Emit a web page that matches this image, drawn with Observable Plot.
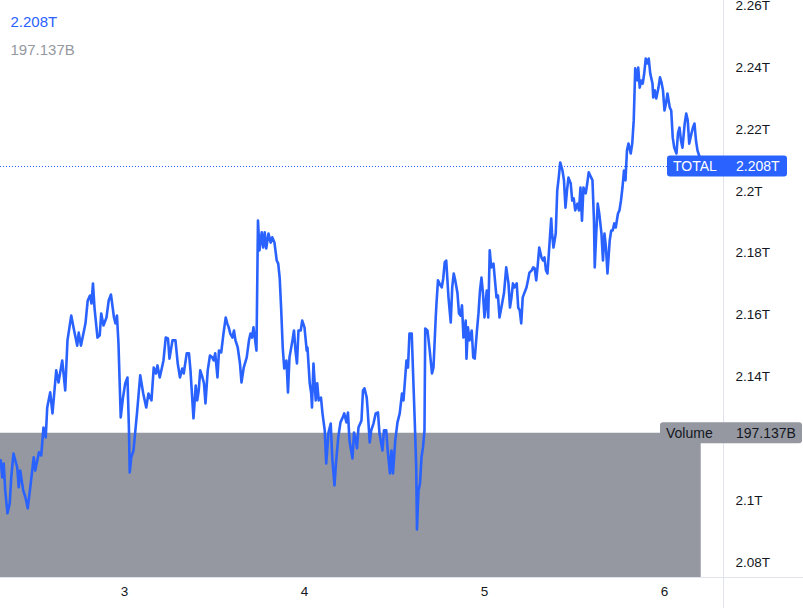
<!DOCTYPE html>
<html>
<head>
<meta charset="utf-8">
<script src="https://cdn.jsdelivr.net/npm/d3@7"></script>
<script src="https://cdn.jsdelivr.net/npm/@observablehq/plot@0.6"></script>
<style>
  html, body { margin: 0; padding: 0; background: #ffffff; }
  #chart { width: 803px; height: 608px; overflow: hidden; }
</style>
</head>
<body>
<div id="chart"></div>
<script>
// ---- data -------------------------------------------------------------
// time = hours since day 2, 00:00 ; value = TOTAL market cap in billions
const totalSeries = [
[7.5,2113.0],[7.7,2107.5],[7.9,2112.0],[8.1,2103.3],[8.4,2095.9],[8.7,2099.1],[8.9,2107.5],[9.2,2115.2],[9.7,2110.7],[9.9,2104.3],
[10.1,2109.7],[10.5,2103.3],[10.8,2101.0],[11.1,2097.5],[11.5,2105.5],[11.9,2114.0],[12.1,2109.7],[12.6,2115.6],[12.9,2114.6],[13.2,2123.6],
[13.5,2120.4],[13.7,2130.1],[14.1,2135.0],[14.4,2128.2],[14.7,2136.6],[14.9,2142.1],[15.2,2138.2],[15.7,2145.3],[16.1,2135.6],[16.4,2151.8],
[16.9,2159.8],[17.2,2156.0],[17.7,2150.1],[17.9,2154.3],[18.2,2150.1],[18.8,2157.3],[19.1,2164.7],[19.4,2166.3],[19.6,2163.7],[19.8,2170.2],
[20.0,2162.4],[20.4,2152.7],[20.7,2153.4],[20.9,2160.5],[21.2,2156.6],[21.6,2159.2],[21.9,2164.7],[22.2,2166.6],[22.6,2159.2],[22.8,2157.3],
[23.0,2159.8],[23.2,2150.8],[23.5,2126.9],[23.8,2133.3],[24.1,2137.9],[24.4,2139.8],[24.6,2122.7],[24.7,2109.1],[24.9,2114.0],[25.2,2116.2],
[25.7,2129.1],[26.1,2140.5],[26.5,2134.6],[26.9,2130.1],[27.2,2134.6],[27.6,2132.4],[27.9,2143.0],[28.2,2141.1],[28.4,2143.7],[28.7,2139.8],
[29.0,2143.0],[29.2,2145.3],[29.5,2152.7],[29.8,2152.4],[30.0,2145.9],[30.4,2151.8],[30.8,2151.8],[31.1,2144.3],[31.4,2139.8],[31.7,2142.7],
[31.9,2141.1],[32.3,2147.6],[32.6,2147.6],[32.8,2142.1],[33.2,2126.6],[33.5,2137.2],[33.7,2132.4],[33.9,2135.6],[34.1,2142.1],[34.4,2139.8],
[34.6,2137.9],[34.8,2131.4],[35.1,2142.1],[35.4,2146.9],[35.7,2146.3],[35.9,2145.3],[36.1,2147.6],[36.4,2139.8],[36.6,2148.5],[36.9,2147.9],
[37.2,2154.0],[37.5,2159.2],[37.7,2157.3],[37.9,2156.0],[38.1,2154.0],[38.4,2152.7],[38.6,2155.0],[38.8,2151.8],[39.1,2149.5],[39.4,2144.3],
[39.6,2138.2],[39.9,2143.0],[40.3,2146.3],[40.6,2151.8],[40.8,2154.0],[41.0,2152.7],[41.2,2156.0],[41.6,2148.5],[41.8,2190.5],[42.0,2180.9],
[42.3,2186.7],[42.5,2181.8],[42.7,2186.7],[42.9,2181.5],[43.2,2186.3],[43.5,2183.4],[43.7,2185.1],[44.0,2183.4],[44.3,2177.6],[44.5,2176.6],
[44.7,2171.8],[44.9,2161.5],[45.1,2149.5],[45.3,2142.7],[45.6,2145.3],[45.8,2135.0],[46.0,2146.3],[46.4,2151.8],[46.6,2155.0],[46.8,2148.5],
[47.0,2144.3],[47.2,2155.0],[47.5,2155.0],[47.7,2158.2],[48.0,2156.0],[48.3,2148.5],[48.4,2149.5],[48.7,2137.9],[48.9,2134.6],[49.0,2130.1],
[49.2,2144.3],[49.5,2132.4],[49.7,2137.9],[49.9,2132.4],[50.2,2133.3],[50.4,2128.2],[50.7,2122.7],[50.9,2112.0],[51.2,2122.0],[51.5,2124.9],
[51.7,2114.0],[52.0,2104.9],[52.2,2112.0],[52.5,2120.4],[52.8,2125.3],[53.1,2126.9],[53.3,2128.2],[53.6,2125.3],[53.8,2128.5],[54.0,2119.4],
[54.4,2113.6],[54.6,2122.0],[54.8,2120.1],[55.0,2116.9],[55.2,2123.6],[55.6,2125.9],[55.8,2135.6],[56.0,2136.3],[56.3,2133.3],[56.4,2130.1],
[56.7,2118.8],[56.9,2122.7],[57.2,2124.9],[57.5,2128.2],[57.8,2128.5],[58.0,2121.7],[58.4,2116.2],[58.6,2122.7],[58.9,2122.7],[59.1,2116.2],
[59.4,2108.8],[59.6,2116.2],[59.8,2108.8],[60.1,2119.4],[60.4,2125.3],[60.7,2128.2],[61.0,2134.6],[61.2,2132.4],[61.6,2145.3],[61.8,2143.0],
[62.0,2154.0],[62.3,2154.0],[62.5,2139.8],[62.7,2125.9],[62.9,2110.7],[63.0,2090.7],[63.2,2103.3],[63.4,2105.5],[63.6,2114.0],[63.8,2117.2],
[64.0,2122.7],[64.1,2155.6],[64.4,2155.0],[64.7,2148.5],[65.0,2141.1],[65.2,2143.0],[65.5,2159.2],[65.6,2163.7],[65.8,2171.2],[66.0,2170.2],
[66.3,2168.9],[66.5,2171.8],[66.7,2177.0],[66.9,2177.6],[67.2,2165.7],[67.5,2157.6],[67.7,2168.9],[67.9,2173.4],[68.1,2171.2],[68.4,2167.0],
[68.6,2160.5],[68.8,2159.8],[69.0,2163.1],[69.2,2152.7],[69.5,2158.2],[69.6,2145.9],[69.8,2156.0],[70.0,2151.8],[70.3,2155.0],[70.5,2146.3],
[70.7,2145.9],[71.0,2155.0],[71.2,2160.5],[71.4,2167.9],[71.6,2172.1],[71.8,2167.0],[72.0,2159.2],[72.3,2167.9],[72.5,2159.2],[72.7,2180.9],
[72.9,2175.4],[73.2,2176.6],[73.4,2171.2],[73.6,2165.7],[73.8,2166.3],[74.0,2159.2],[74.3,2163.1],[74.6,2167.0],[74.9,2175.4],[75.2,2170.2],
[75.4,2162.4],[75.6,2165.7],[75.8,2170.2],[76.0,2168.9],[76.3,2170.2],[76.5,2162.4],[76.7,2161.5],[76.9,2157.3],[77.1,2165.7],[77.3,2167.0],
[77.6,2168.9],[77.8,2171.2],[78.0,2173.7],[78.3,2174.4],[78.5,2175.4],[78.7,2175.0],[78.9,2171.2],[79.1,2176.0],[79.3,2181.8],[79.6,2178.6],
[79.8,2177.6],[80.0,2178.6],[80.2,2174.4],[80.4,2173.4],[80.7,2184.1],[80.9,2191.2],[81.0,2186.7],[81.2,2181.8],[81.5,2186.3],[81.7,2200.2],
[81.9,2204.4],[82.1,2209.3],[82.4,2206.7],[82.6,2203.5],[82.8,2194.7],[83.0,2200.2],[83.2,2204.4],[83.5,2202.5],[83.7,2197.0],[83.9,2197.7],
[84.1,2193.8],[84.4,2196.0],[84.6,2193.8],[84.8,2201.2],[85.0,2190.5],[85.2,2201.2],[85.5,2199.3],[85.7,2202.5],[85.9,2206.1],[86.1,2205.1],
[86.4,2203.5],[86.6,2190.5],[86.7,2175.4],[86.9,2186.3],[87.1,2196.0],[87.3,2192.8],[87.6,2186.3],[87.8,2177.6],[88.0,2186.3],[88.2,2181.8],
[88.4,2173.4],[88.7,2184.1],[88.9,2187.3],[89.1,2187.3],[89.3,2189.6],[89.5,2188.3],[89.8,2192.8],[90.0,2193.8],[90.2,2197.0],[90.4,2201.2],
[90.6,2206.7],[90.8,2203.5],[91.0,2213.2],[91.2,2215.4],[91.5,2212.2],[91.7,2215.4],[91.9,2222.9],[92.1,2239.7],[92.4,2235.8],[92.5,2240.0],
[92.7,2233.5],[92.9,2235.8],[93.1,2234.8],[93.3,2238.1],[93.5,2242.9],[93.7,2241.3],[93.9,2242.9],[94.1,2238.1],[94.4,2234.8],[94.5,2230.3],
[94.7,2232.6],[94.9,2230.0],[95.2,2233.5],[95.4,2236.8],[95.6,2235.2],[95.8,2232.6],[96.0,2226.1],[96.2,2228.4],[96.4,2231.6],[96.7,2227.1],
[96.9,2226.1],[97.1,2217.4],[97.3,2214.1],[97.6,2212.2],[97.8,2218.7],[98.0,2220.6],[98.2,2216.4],[98.4,2214.1],[98.7,2221.9],[98.9,2225.1],
[99.1,2222.9],[99.3,2215.4],[99.6,2218.7],[99.8,2220.6],[100.0,2221.9],[100.2,2216.4],[100.4,2213.2],[100.7,2210.9],[100.9,2208.0]
];

const seriesName = "TOTAL";
const lastValue = 2208.0;          // billions -> "2.208T"
const volumeLabel = "Volume";
const volumeValue = 197.137;       // billions -> "197.137B"
const volumePaneShare = 0.25;      // volume pane takes the bottom quarter

const dayTicks = [3, 4, 5, 6];                                   // day of month
const priceTicks = [2080, 2100, 2140, 2160, 2180, 2200, 2220, 2240, 2260]; // billions
const xDomain = [7.47, 103.87];    // hours since day 2, 00:00
const yDomain = [2075.15, 2261.65];

// ---- helpers ----------------------------------------------------------
const fmtT = v => (+(v / 1000).toFixed(3)) + "T";
const fmtB = v => v.toFixed(3) + "B";
const lastTime = totalSeries[totalSeries.length - 1][0];
const volumeTop = yDomain[0] + (volumeValue / volumeValue) * volumePaneShare * (yDomain[1] - yDomain[0]);
const volumeBars = [{x1: xDomain[0], x2: lastTime, y1: yDomain[0], y2: volumeTop}];

const BLUE = "#2962ff";
const GREY = "#9598a1";
const INK = "#131722";
const FONT = "'Liberation Sans', Arial, sans-serif";

const chart = Plot.plot({
  width: 803,
  height: 608,
  marginLeft: 0,
  marginRight: 80,
  marginTop: 0,
  marginBottom: 31,
  style: {fontFamily: FONT, fontSize: "13px", color: INK, background: "#ffffff", overflow: "visible"},
  x: {domain: xDomain},
  y: {domain: yDomain},
  marks: [
    Plot.rect(volumeBars, {x1: "x1", x2: "x2", y1: "y1", y2: "y2", fill: GREY}),
    Plot.ruleY([lastValue], {stroke: BLUE, strokeWidth: 1, strokeDasharray: "1,2"}),
    Plot.line(totalSeries, {x: d => d[0], y: d => d[1], stroke: BLUE, strokeWidth: 2.6, strokeLinejoin: "round"}),
    Plot.axisY(priceTicks, {anchor: "right", tickSize: 0, tickPadding: 12, textAnchor: "start",
      tickFormat: fmtT, fontSize: 13.5, fill: INK, label: null}),
    Plot.axisX(dayTicks.map(d => (d - 2) * 24), {anchor: "bottom", tickSize: 0, tickPadding: 9,
      tickFormat: h => String(2 + h / 24), fontSize: 13.5, fill: INK, label: null}),
    Plot.text([fmtT(lastValue)], {frameAnchor: "top-left", dx: 10, dy: 22, textAnchor: "start",
      lineAnchor: "middle", fill: BLUE, fontSize: 15}),
    Plot.text([fmtB(volumeValue)], {frameAnchor: "top-left", dx: 10, dy: 50, textAnchor: "start",
      lineAnchor: "middle", fill: GREY, fontSize: 15})
  ]
});

document.getElementById("chart").appendChild(chart);

// ---- price-scale decorations (borders and last-value labels) ----------
const sx = chart.scale("x"), sy = chart.scale("y");
const right = sx.apply(xDomain[1]);
const bottom = sy.apply(yDomain[0]);
const svg = d3.select(chart);
const deco = svg.append("g").attr("font-family", FONT).attr("text-anchor", "start");

deco.append("line").attr("x1", right + 0.5).attr("x2", right + 0.5).attr("y1", 0).attr("y2", 608)
  .attr("stroke", "#e0e3eb").attr("stroke-width", 1);
deco.append("line").attr("x1", 0).attr("x2", 803).attr("y1", bottom + 0.5).attr("y2", bottom + 0.5)
  .attr("stroke", "#e0e3eb").attr("stroke-width", 1);

function label(yv, x0, w, bg, fg, name, val) {
  const yp = sy.apply(yv);
  deco.append("rect").attr("x", x0).attr("y", yp - 10.5).attr("width", w).attr("height", 21)
    .attr("rx", 3).attr("fill", bg);
  deco.append("text").attr("x", x0 + 6).attr("y", yp).attr("dy", "0.35em").attr("text-anchor", "start")
    .attr("font-size", 14).attr("fill", fg).text(name);
  deco.append("text").attr("x", right + 13).attr("y", yp).attr("dy", "0.35em").attr("text-anchor", "start")
    .attr("font-size", 14).attr("fill", fg).text(val);
}
label(lastValue, right - 56, 120, BLUE, "#ffffff", seriesName, fmtT(lastValue));
label(volumeTop, right - 63, 142, GREY, INK, volumeLabel, fmtB(volumeValue));
</script>
</body>
</html>
